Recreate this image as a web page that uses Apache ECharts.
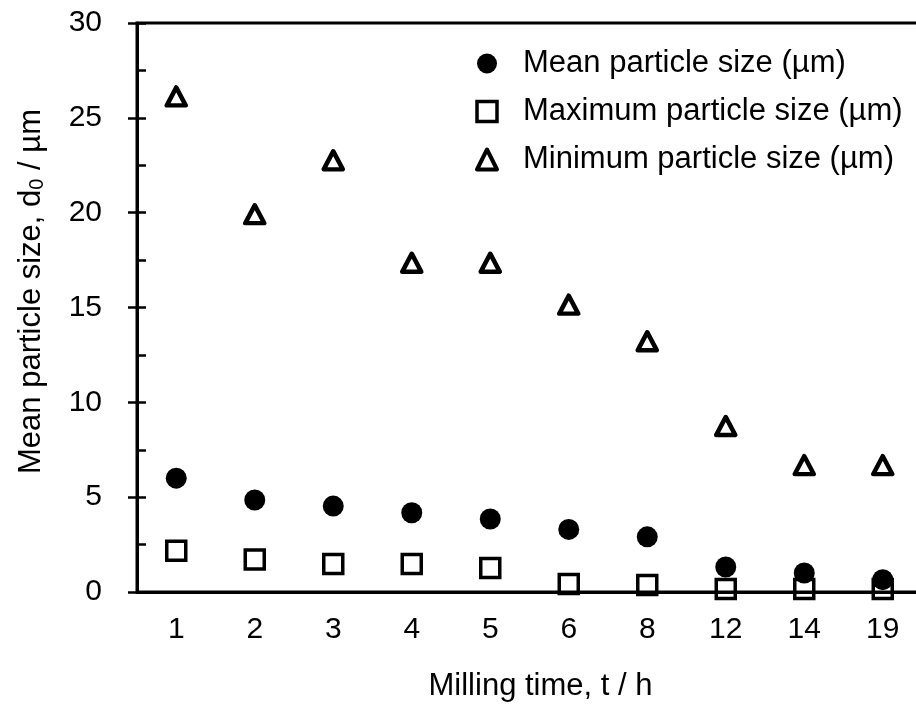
<!DOCTYPE html>
<html>
<head>
<meta charset="utf-8">
<script src="https://cdn.jsdelivr.net/npm/echarts@6/dist/echarts.min.js"></script>
<style>
  html, body { margin: 0; padding: 0; background: #fff; }
  #chart { width: 916px; height: 704px; }
</style>
</head>
<body>
<div id="chart"></div>
<script>
// Milling time categories (hours)
const millingTimes = ['1', '2', '3', '4', '5', '6', '8', '12', '14', '19'];

// Particle sizes in µm for each milling time
const meanSize = [6.0, 4.85, 4.53, 4.18, 3.85, 3.3, 2.91, 1.32, 1.0, 0.65];
const maxSize  = [2.18, 1.72, 1.48, 1.48, 1.26, 0.42, 0.37, 0.16, 0.16, 0.16];
const minSize  = [26.13, 19.92, 22.76, 17.36, 17.36, 15.15, 13.22, 8.75, 6.69, 6.69];

const seriesNames = [
  'Mean particle size (µm)',
  'Maximum particle size (µm)',
  'Minimum particle size (µm)'
];

const FONT = '"Liberation Sans", Arial, sans-serif';
const INK = '#000';

const chart = echarts.init(document.getElementById('chart'), null, { renderer: 'canvas' });

const yCommon = {
  type: 'value',
  min: 0,
  max: 30,
  interval: 5,
  position: 'left',
  splitLine: { show: false }
};

chart.setOption({
  backgroundColor: '#fff',
  animation: false,
  textStyle: { fontFamily: FONT, color: INK },
  grid: {
    left: 137, top: 23, width: 785, height: 569,
    containLabel: false,
    outerBoundsMode: 'none',
    show: true, borderColor: INK, borderWidth: 3, backgroundColor: 'transparent'
  },
  legend: {
    orient: 'vertical',
    left: 475,
    top: 48,
    padding: 0,
    itemWidth: 20,
    itemHeight: 20,
    itemGap: 17,
    textStyle: { fontFamily: FONT, fontSize: 31, lineHeight: 30, color: INK, padding: [0, 0, 0, 21] },
    data: [
      { name: seriesNames[0], icon: 'circle', itemStyle: { color: INK, borderWidth: 0, opacity: 1 } },
      { name: seriesNames[1], icon: 'rect', itemStyle: { color: 'transparent', borderColor: INK, borderWidth: 3.5, opacity: 1 } },
      { name: seriesNames[2], icon: 'triangle', itemStyle: { color: '#fff', borderColor: INK, borderWidth: 4, borderJoin: 'round', opacity: 1 } }
    ]
  },
  xAxis: {
    type: 'category',
    data: millingTimes,
    boundaryGap: true,
    name: 'Milling time, t / h',
    nameLocation: 'middle',
    nameGap: 79,
    nameTextStyle: { fontFamily: FONT, fontSize: 31, lineHeight: 31, color: INK, padding: [0, 0, 0, 22] },
    axisLine: { lineStyle: { color: INK, width: 3 } },
    axisTick: { inside: true, length: 9, alignWithLabel: false, lineStyle: { color: INK, width: 2.5 } },
    axisLabel: { fontFamily: FONT, fontSize: 30, color: INK, margin: 23 },
    splitLine: { show: false }
  },
  yAxis: [
    Object.assign({}, yCommon, {
      name: 'Mean particle size, d{sub|0} / µm',
      nameLocation: 'middle',
      nameRotate: 90,
      nameGap: 90,
      nameTextStyle: {
        fontFamily: FONT, fontSize: 31, lineHeight: 31, color: INK,
        padding: [0, 0, 0, 32],
        rich: {
          sub: { fontFamily: FONT, fontSize: 20, color: INK, verticalAlign: 'bottom', padding: [12, 0, 0, 0] }
        }
      },
      axisLine: { show: true, lineStyle: { color: INK, width: 3 } },
      axisTick: { show: true, inside: true, length: 9, lineStyle: { color: INK, width: 2.5 } },
      minorTick: { show: true, splitNumber: 2, length: 9, lineStyle: { color: INK, width: 2.5 } },
      axisLabel: { fontFamily: FONT, fontSize: 30, color: INK, margin: 35 }
    }),
    // outward half of the major ticks
    Object.assign({}, yCommon, {
      axisLine: { show: false },
      axisTick: { show: true, inside: false, length: 9, lineStyle: { color: INK, width: 2.5 } },
      axisLabel: { show: false }
    })
  ],
  series: [
    {
      name: seriesNames[1],
      type: 'scatter',
      yAxisIndex: 0,
      data: maxSize,
      symbol: 'rect',
      symbolSize: 19,
      z: 2,
      itemStyle: { color: 'transparent', borderColor: INK, borderWidth: 3.5, opacity: 1 }
    },
    {
      name: seriesNames[0],
      type: 'scatter',
      yAxisIndex: 0,
      data: meanSize,
      symbol: 'circle',
      symbolSize: 21,
      z: 3,
      itemStyle: { color: INK, borderWidth: 0, opacity: 1 }
    },
    {
      name: seriesNames[2],
      type: 'scatter',
      yAxisIndex: 0,
      data: minSize,
      symbol: 'triangle',
      symbolSize: [19, 18],
      z: 3,
      itemStyle: { color: '#fff', borderColor: INK, borderWidth: 4.5, borderJoin: 'round', opacity: 1 }
    }
  ]
});
</script>
</body>
</html>
